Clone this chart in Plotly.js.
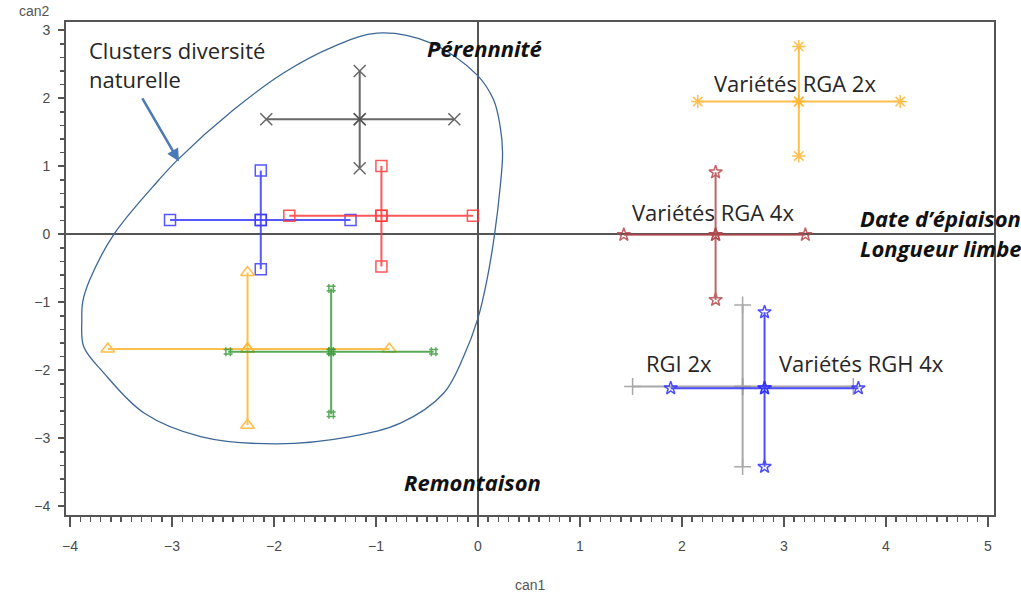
<!DOCTYPE html>
<html><head><meta charset="utf-8">
<script src="https://cdn.plot.ly/plotly-3.0.1.min.js"></script>
<style>html,body{margin:0;padding:0;background:#fff}#chart{width:1021px;height:594px}</style>
</head><body><div id="chart"></div>
<script>
// Group data (centre and extents of each cross)
const groups   = ['Cluster noir', 'Cluster bleu', 'Cluster rouge', 'Cluster orange', 'Cluster vert', 'Variétés RGA 2x', 'Variétés RGA 4x', 'RGI 2x', 'Variétés RGH 4x'];
const centerX  = [-1.16, -2.13, -0.947, -2.26, -1.44, 3.146, 2.33, 2.595, 2.81];
const centerY  = [1.69, 0.21, 0.27, -1.69, -1.73, 1.95, -0.01, -2.24, -2.265];
const xLow     = [-2.076, -3.02, -1.85, -3.63, -2.45, 2.155, 1.43, 1.516, 1.89];
const xHigh    = [-0.232, -1.25, -0.05, -0.87, -0.435, 4.14, 3.21, 3.68, 3.73];
const yLow     = [0.97, -0.515, -0.476, -2.81, -2.65, 1.15, -0.966, -3.42, -3.42];
const yHigh    = [2.40, 0.935, 1.004, -0.565, -0.80, 2.76, 0.91, -1.04, -1.147];
const colors   = ['#4d4d4d', '#3a3aff', '#ff3b3b', '#ffb52e', '#3c9c3c', '#ffb52e', '#b5484d', '#9a9a9a', '#2f2fff'];
const symbols  = ['x-thin-open', 'square-open', 'square-open', 'triangle-up-open', 'hash-open', 'asterisk-open', 'star-open', 'cross-thin-open', 'star-open'];
const sizes    = [12, 11, 11, 12, 9, 11, 10, 12, 10];

// Hand-drawn outline around the natural diversity clusters
const blobX = [-0.989, -0.467, -0.01, 0.153, 0.218, 0.241, 0.218, 0.163, 0.088, 0.0, -0.141, -0.337, -0.761, -1.25, -1.969, -2.72, -3.275, -3.67, -3.866, -3.885, -3.876, -3.807, -3.569, -3.13, -2.946, -2.397, -1.907, -1.417, -0.989];
const blobY = [2.956, 2.813, 2.343, 1.975, 1.58, 1.19, 0.70, 0.0, -0.672, -1.235, -1.80, -2.34, -2.78, -2.976, -3.084, -2.976, -2.63, -2.04, -1.657, -1.26, -0.996, -0.672, 0.0, 0.796, 1.093, 1.828, 2.371, 2.759, 2.956];

// Text labels
const labelText = ['Variétés RGA 2x', 'Variétés RGA 4x', 'RGI 2x', 'Variétés RGH 4x'];
const labelX    = [3.108, 2.30, 1.97, 3.765];
const labelY    = [2.22, 0.332, -1.888, -1.888];
const traitText = ['Pérennnité', 'Remontaison'];
const traitX    = [0.07, -0.057];
const traitY    = [2.74, -3.64];
const traitLeftText = ['Date d’épiaison', 'Longueur limbe'];
const traitLeftX    = [3.723, 3.723];
const traitLeftY    = [0.24, -0.2];

const traces = [];
traces.push({x: blobX, y: blobY, mode: 'lines', line: {color: '#3d6797', width: 1.3, shape: 'spline', smoothing: 1.0}, hoverinfo: 'skip', showlegend: false});
for (let i = 0; i < groups.length; i++) {
  const mk = {symbol: symbols[i], size: sizes[i], color: colors[i], line: {color: colors[i], width: 1.5}};
  traces.push({x: [xLow[i], centerX[i], xHigh[i]], y: [centerY[i], centerY[i], centerY[i]], mode: 'lines+markers', name: groups[i],
    line: {color: colors[i], width: 2}, marker: mk, opacity: 0.85, showlegend: false});
  traces.push({x: [centerX[i], centerX[i], centerX[i]], y: [yLow[i], centerY[i], yHigh[i]], mode: 'lines+markers', name: groups[i],
    line: {color: colors[i], width: 2}, marker: mk, opacity: 0.85, showlegend: false});
}

const txtFont = {family: 'Open Sans, Noto Sans, sans-serif', size: 22, color: '#262626'};
const boldFont = {family: 'Open Sans, Noto Sans, sans-serif', size: 22, color: '#111'};
const annotations = [];
for (let i = 0; i < labelText.length; i++) {
  annotations.push({x: labelX[i], y: labelY[i], xref: 'x', yref: 'y', text: labelText[i], showarrow: false, font: txtFont, xanchor: 'center', yanchor: 'middle'});
}
for (let i = 0; i < traitText.length; i++) {
  annotations.push({x: traitX[i], y: traitY[i], xref: 'x', yref: 'y', text: '<b><i>' + traitText[i] + '</i></b>', showarrow: false, font: boldFont, xanchor: 'center', yanchor: 'middle'});
}
for (let i = 0; i < traitLeftText.length; i++) {
  annotations.push({x: traitLeftX[i], y: traitLeftY[i], xref: 'x', yref: 'y', text: '<b><i>' + traitLeftText[i] + '</i></b>', showarrow: false, font: boldFont, xanchor: 'left', yanchor: 'middle'});
}
annotations.push({x: -3.83, y: 2.49, xref: 'x', yref: 'y', text: 'Clusters diversité<br>naturelle', showarrow: false, font: txtFont, xanchor: 'left', yanchor: 'middle', align: 'left'});
annotations.push({x: -2.932, y: 1.068, xref: 'x', yref: 'y', ax: -3.30, ay: 2.02, axref: 'x', ayref: 'y', text: '', showarrow: true, arrowhead: 2, arrowsize: 1, arrowwidth: 2.5, arrowcolor: '#4a7ab5'});
annotations.push({x: 0, y: 1, xref: 'paper', yref: 'paper', text: 'can2', showarrow: false, xanchor: 'right', yanchor: 'bottom', xshift: -14, yshift: 1, font: {family: 'Liberation Sans, Arial, sans-serif', size: 14, color: '#555'}});
annotations.push({x: 0.5, y: 0, xref: 'paper', yref: 'paper', text: 'can1', showarrow: false, xanchor: 'center', yanchor: 'middle', yshift: -70, font: {family: 'Liberation Sans, Arial, sans-serif', size: 14, color: '#555'}});

const tickFont = {family: 'Liberation Sans, Arial, sans-serif', size: 14, color: '#4a4a4a'};
const layout = {
  width: 1021, height: 594,
  margin: {l: 66, r: 27, t: 22, b: 79},
  paper_bgcolor: '#fff', plot_bgcolor: '#fff',
  showlegend: false,
  xaxis: {range: [-4.04, 5.06], dtick: 1, tick0: 0, ticks: 'outside', ticklen: 10, tickwidth: 2, tickcolor: '#555',
    minor: {dtick: 0.1, ticks: 'outside', ticklen: 5, tickwidth: 1.5, tickcolor: '#555', showgrid: false},
    showgrid: false, zeroline: true, zerolinecolor: '#555', zerolinewidth: 2, ticklabelstandoff: 7,
    showline: true, linecolor: '#555', linewidth: 2, mirror: true, tickfont: tickFont},
  yaxis: {range: [-4.13, 3.12], dtick: 1, tick0: 0, ticks: 'outside', ticklen: 6, tickwidth: 2, tickcolor: '#555',
    minor: {dtick: 0.2, ticks: 'outside', ticklen: 4, tickwidth: 1.5, tickcolor: '#555', showgrid: false},
    showgrid: false, zeroline: true, zerolinecolor: '#555', zerolinewidth: 2, ticklabelstandoff: 5,
    showline: true, linecolor: '#555', linewidth: 2, mirror: true, tickfont: tickFont},
  annotations: annotations
};
Plotly.newPlot('chart', traces, layout, {staticPlot: true});
</script></body></html>
